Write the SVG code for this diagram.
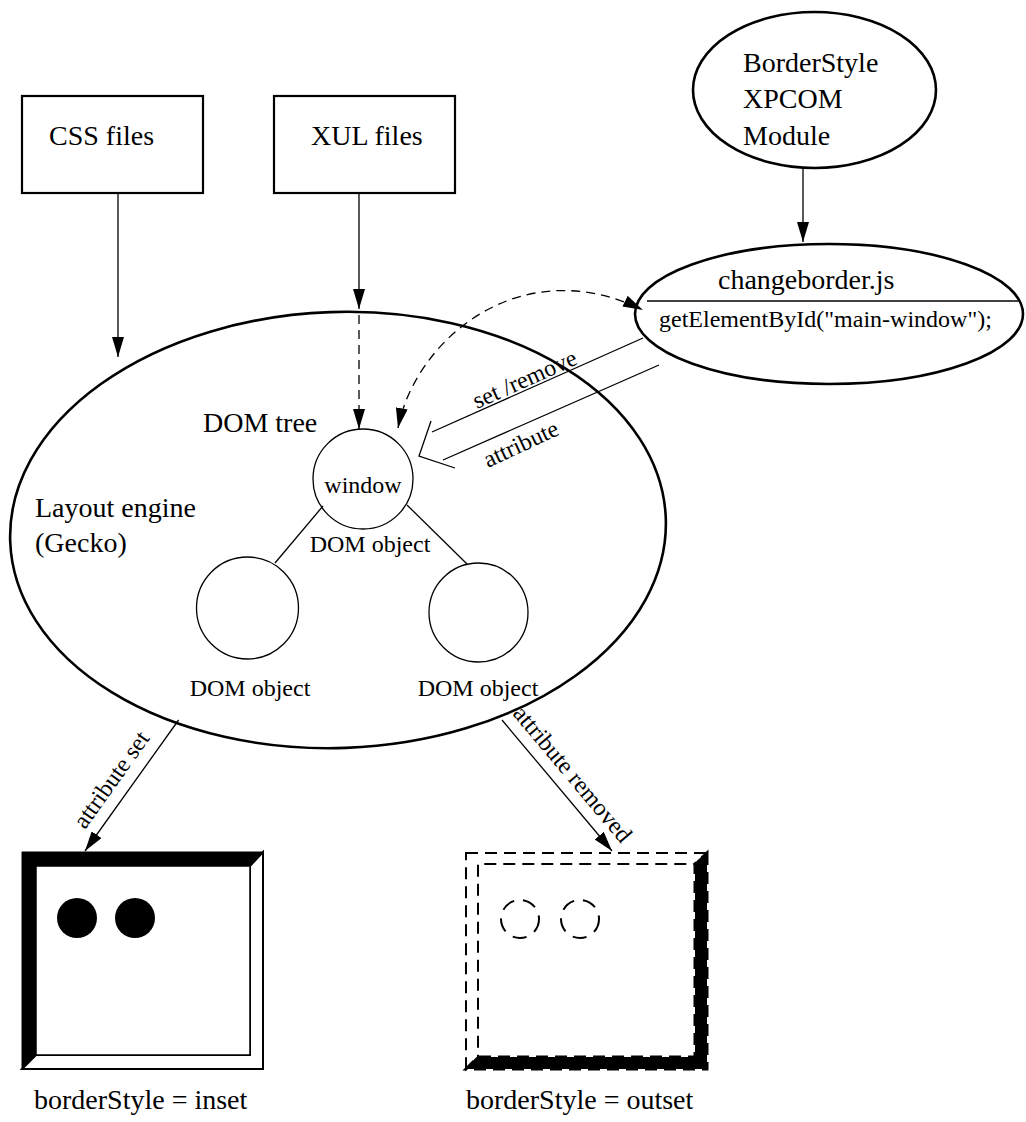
<svg xmlns="http://www.w3.org/2000/svg" width="1026" height="1122" viewBox="0 0 1026 1122">
<style>
text{font-family:"Liberation Serif","Times New Roman",serif;fill:#000}
.t28{font-size:28px}
.t24{font-size:24px}
.box{fill:#fff;stroke:#000;stroke-width:2.2}
.ell{fill:#fff;stroke:#000;stroke-width:2.6}
.circ{fill:#fff;stroke:#000;stroke-width:1.3}
.ln{fill:none;stroke:#000;stroke-width:1.3}
.dash{fill:none;stroke:#000;stroke-width:1.3;stroke-dasharray:9 6}
</style>
<defs>
<marker id="ah" markerWidth="20" markerHeight="12" refX="20" refY="6" orient="auto" markerUnits="userSpaceOnUse">
<path d="M0,0 L20,6 L0,12 z" fill="#000"/>
</marker>
<marker id="ahs" markerWidth="20" markerHeight="12" refX="20" refY="6" orient="auto-start-reverse" markerUnits="userSpaceOnUse">
<path d="M0,0 L20,6 L0,12 z" fill="#000"/>
</marker>
</defs>
<rect width="1026" height="1122" fill="#fff"/>

<g id="layout-engine">
<ellipse class="ell" cx="338" cy="530" rx="328" ry="218" transform="rotate(-2 338 530)"/>
<text class="t28" x="35" y="517">Layout engine</text>
<text class="t28" x="35" y="552">(Gecko)</text>
<text class="t28" x="203" y="432">DOM tree</text>
</g>

<g id="css-files">
<rect class="box" x="22" y="96" width="181" height="97"/>
<text class="t28" x="49" y="145">CSS files</text>
</g>

<g id="xul-files">
<rect class="box" x="274" y="96" width="181" height="97"/>
<text class="t28" x="311" y="145">XUL files</text>
</g>

<g id="borderstyle-module">
<ellipse class="ell" cx="814.5" cy="90" rx="121.5" ry="78"/>
<text class="t28" x="743" y="72">BorderStyle</text>
<text class="t28" x="743" y="108">XPCOM</text>
<text class="t28" x="743" y="145">Module</text>
</g>

<g id="changeborder">
<ellipse class="ell" cx="829" cy="314" rx="194" ry="70"/>
<line x1="647" y1="301" x2="1019" y2="301" stroke="#000" stroke-width="1.3"/>
<text class="t28" x="718" y="289">changeborder.js</text>
<text class="t24" x="659" y="327">getElementById("main-window");</text>
</g>

<g id="window-node">
<circle class="circ" cx="363" cy="479" r="50"/>
<text class="t24" x="363" y="493" text-anchor="middle">window</text>
<text class="t24" x="370" y="552" text-anchor="middle">DOM object</text>
</g>

<g id="dom-left">
<circle class="circ" cx="247.5" cy="608" r="51"/>
<text class="t24" x="250" y="696" text-anchor="middle">DOM object</text>
</g>

<g id="dom-right">
<circle class="circ" cx="478.5" cy="612.5" r="49.5"/>
<text class="t24" x="478" y="696" text-anchor="middle">DOM object</text>
</g>

<g id="inset-box">
<polygon points="22,852 263,852 250,866 36,866 36,1055 22,1069" fill="#000" stroke="#000" stroke-width="1"/>
<polygon points="263,852 263,1069 22,1069 36,1055 250,1055 250,866" fill="#fff" stroke="#000" stroke-width="2"/>
<rect x="36" y="866" width="214" height="189" fill="#fff" stroke="#000" stroke-width="1.5"/>
<circle cx="77" cy="918" r="20" fill="#000"/>
<circle cx="135" cy="918" r="20" fill="#000"/>
</g>

<g id="outset-box">
<polygon points="466,853 707,853 695,864 478,864 478,1057 466,1069" fill="#fff" stroke="#000" stroke-width="2" stroke-dasharray="12 7"/>
<polygon points="707,853 707,1069 466,1069 478,1057 695,1057 695,864" fill="#000" stroke="#000" stroke-width="3" stroke-dasharray="12 7"/>
<circle cx="520" cy="919" r="19" fill="none" stroke="#000" stroke-width="2" stroke-dasharray="14 9"/>
<circle cx="580" cy="919" r="19" fill="none" stroke="#000" stroke-width="2" stroke-dasharray="14 9"/>
</g>

<g id="labels">
<text class="t28" x="34" y="1109">borderStyle = inset</text>
<text class="t28" x="466" y="1109">borderStyle = outset</text>
</g>

<g id="connectors">
<line class="ln" x1="118" y1="193" x2="118" y2="357" marker-end="url(#ah)"/>
<line class="ln" x1="359" y1="193" x2="359" y2="309" marker-end="url(#ah)"/>
<line class="dash" x1="359" y1="315" x2="359" y2="429" marker-end="url(#ah)"/>
<line class="ln" x1="803" y1="168" x2="803" y2="242" marker-end="url(#ah)"/>
<path class="dash" d="M398,428 C415,340 520,250 643,310" marker-start="url(#ahs)" marker-end="url(#ah)"/>
<line class="ln" x1="323" y1="506" x2="275" y2="563"/>
<line class="ln" x1="407" y1="505" x2="467" y2="564"/>
<line class="ln" x1="432" y1="432" x2="643" y2="338"/>
<line class="ln" x1="443" y1="460" x2="659" y2="365"/>
<polyline class="ln" points="431,421 419,456 455,468"/>
<text class="t24" transform="translate(477,409) rotate(-24)">set /remove</text>
<text class="t24" transform="translate(488,468) rotate(-25)">attribute</text>
<line class="ln" x1="178.6" y1="720" x2="85" y2="851" marker-end="url(#ah)"/>
<text class="t24" transform="translate(85,830) rotate(-54.5)">attribute set</text>
<line class="ln" x1="502" y1="720" x2="612" y2="851" marker-end="url(#ah)"/>
<text class="t24" transform="translate(512,714) rotate(50)">attribute removed</text>
</g>
</svg>
